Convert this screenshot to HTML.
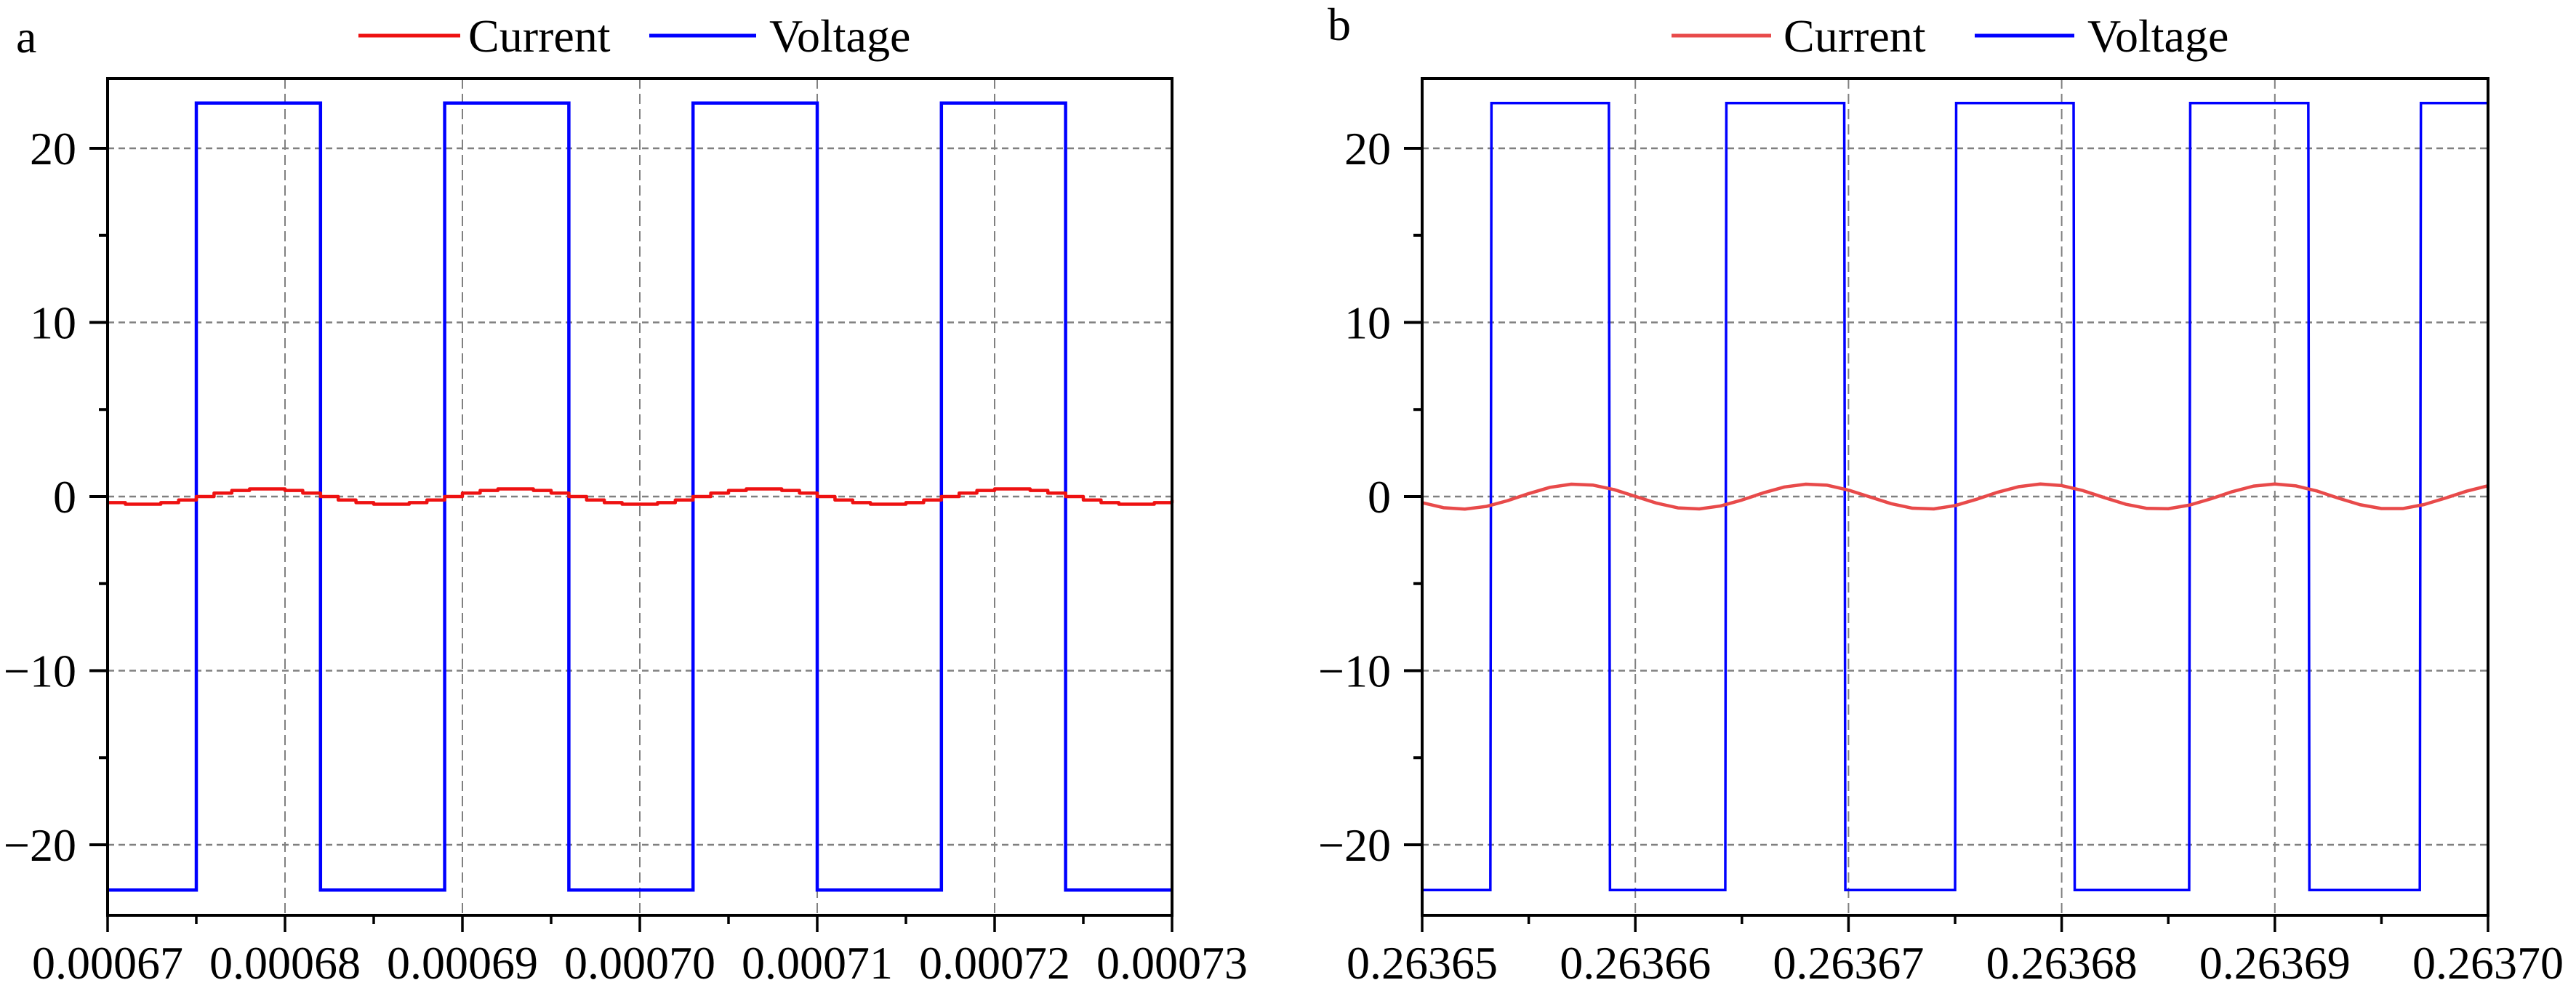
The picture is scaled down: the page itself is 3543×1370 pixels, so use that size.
<!DOCTYPE html>
<html><head><meta charset="utf-8"><style>
html,body{margin:0;padding:0;background:#fff;}
svg{display:block;font-family:"Liberation Serif",serif;}
</style></head><body>
<svg id="chart" width="3543" height="1370" viewBox="0 0 3543 1370" xmlns="http://www.w3.org/2000/svg"></svg>
<script>
// ---- Data ----
const yTicks = [-20, -10, 0, 10, 20];
const yMinorTicks = [-15, -5, 5, 15];
const xTicksA = [0.00067, 0.00068, 0.00069, 0.00070, 0.00071, 0.00072, 0.00073];
const xTickLabelsA = ["0.00067","0.00068","0.00069","0.00070","0.00071","0.00072","0.00073"];
const xTicksB = [0.26365, 0.26366, 0.26367, 0.26368, 0.26369, 0.26370];
const xTickLabelsB = ["0.26365","0.26366","0.26367","0.26368","0.26369","0.26370"];
const voltageHigh = 22.6;
const voltageLow = -22.6;
const voltageStartA = -22.6;
const voltageEdgesA = [0.000675,0.000682,0.000689,0.000696,0.000703,0.000710,0.000717,0.000724];
const voltageStartB = -22.6;
const voltageEdgesB = [0.2636532,0.26365876,0.26366422,0.2636698,0.263675,0.26368056,0.26368598,0.26369157,0.2636968];
const currentStartA = 0.00067;
const currentStepA = 0.000001;
const currentA = [-0.35,-0.44,-0.44,-0.35,-0.20,0.00,0.20,0.35,0.44,0.44,0.35,0.20,0.00,-0.20,
 -0.35,-0.44,-0.44,-0.35,-0.20,0.00,0.20,0.35,0.44,0.44,0.35,0.20,0.00,-0.20,
 -0.35,-0.44,-0.44,-0.35,-0.20,0.00,0.20,0.35,0.44,0.44,0.35,0.20,0.00,-0.20,
 -0.35,-0.44,-0.44,-0.35,-0.20,0.00,0.20,0.35,0.44,0.44,0.35,0.20,0.00,-0.20,
 -0.35,-0.44,-0.44,-0.35,-0.20];
const currentStartB = 0.26365;
const currentStepB = 0.000001;
const currentB = [-0.35,-0.64,-0.72,-0.57,-0.24,0.17,0.53,0.71,0.66,0.40,0.01,-0.38,-0.65,-0.71,-0.54,-0.20,0.21,0.55,0.71,0.65,0.37,-0.02,-0.41,-0.67,-0.71,-0.52,-0.16,0.25,0.57,0.72,0.63,0.34,-0.06,-0.44,-0.68,-0.70,-0.49,-0.13,0.28,0.60,0.72,0.61,0.31,-0.10,-0.47,-0.69,-0.69,-0.46,-0.09,0.31,0.62];

const NS = "http://www.w3.org/2000/svg";
const svg = document.getElementById('chart');
function mk(tag, attrs, parent){
  const e = document.createElementNS(NS, tag);
  for (const k in attrs) e.setAttribute(k, attrs[k]);
  (parent||svg).appendChild(e);
  return e;
}

function panel(cfg){
  const g = mk('g', {});
  
  
  const L = cfg.left, R = cfg.right, T = 108, B = 1259;
  const y0 = 683, yPer = 23.95;
  const ys = v => y0 - v * yPer;
  const xs = t => L + (t - cfg.xmin) / (cfg.xmax - cfg.xmin) * (R - L);

  // grid
  yTicks.forEach(v => {
    const l = mk('line', {x1:L, x2:R, y1:ys(v), y2:ys(v), stroke:'#808080', 'stroke-width':2.5, 'stroke-dasharray':'9,6'}, g);
    
    
  });
  cfg.xt.forEach((t,i) => {
    if (i === 0 || i === cfg.xt.length-1) return;
    const l = mk('line', {x1:xs(t), x2:xs(t), y1:T, y2:B, stroke:'#808080', 'stroke-width':2, 'stroke-dasharray':'14,7'}, g);
    
    
  });

  // voltage step
  let d = `M${L},${ys(cfg.vStart)}`;
  let lvl = cfg.vStart;
  cfg.vEdges.forEach(t => {
    const x = xs(t);
    d += ` L${x},${ys(lvl)}`;
    lvl = (lvl === voltageLow) ? voltageHigh : voltageLow;
    d += ` L${x + cfg.slant},${ys(lvl)}`;
  });
  d += ` L${R},${ys(lvl)}`;
  const vp = mk('path', {d:d, fill:'none', stroke:'#0000ff', 'stroke-width':cfg.vw, 'stroke-linejoin':'miter'}, g);
  
  

  // current
  let cd = '';
  cfg.cur.forEach((v,i) => {
    const x = xs(cfg.cStart + i*cfg.cStep);
    if (cfg.stepped) {
      const x2 = Math.min(R, xs(cfg.cStart + (i+1)*cfg.cStep));
      cd += (i===0 ? `M${x},${ys(v)}` : ` L${x},${ys(v)}`) + ` L${x2},${ys(v)}`;
    } else {
      cd += (i===0 ? 'M' : ' L') + x + ',' + ys(v);
    }
  });
  const cp = mk('path', {d:cd, fill:'none', stroke:cfg.ccol, 'stroke-width':4.5, 'stroke-linejoin':'round'}, g);
  
  

  // frame
  const fr = mk('rect', {x:L, y:T, width:R-L, height:B-T, fill:'none', stroke:'#000', 'stroke-width':4}, g);
  
  

  // y ticks
  yTicks.forEach(v => {
    const t = mk('line', {x1:L-25, x2:L, y1:ys(v), y2:ys(v), stroke:'#000', 'stroke-width':4}, g);
    
    
    const lab = mk('text', {x:L-43, y:ys(v)+22, 'text-anchor':'end', 'font-size':64, fill:'#000'}, g);
    lab.textContent = v < 0 ? '\u2212' + Math.abs(v) : String(v);
    
    
  });
  yMinorTicks.forEach(v => {
    const t = mk('line', {x1:L-12, x2:L, y1:ys(v), y2:ys(v), stroke:'#000', 'stroke-width':4}, g);
    
    
  });
  // x ticks
  cfg.xt.forEach((t,i) => {
    const tk = mk('line', {x1:xs(t), x2:xs(t), y1:B, y2:B+23, stroke:'#000', 'stroke-width':3.5}, g);
    
    
    if (i < cfg.xt.length-1) {
      const mx = (xs(t) + xs(cfg.xt[i+1]))/2;
      const mt = mk('line', {x1:mx, x2:mx, y1:B, y2:B+12, stroke:'#000', 'stroke-width':3.5}, g);
      
      
    }
    const lab = mk('text', {x:xs(t), y:1346, 'text-anchor':'middle', 'font-size':64, fill:'#000'}, g);
    lab.textContent = cfg.xl[i];
    
    
  });

  // panel letter
  const pl = mk('text', {x:cfg.letterX, y:cfg.letterY, 'font-size':64, fill:'#000'}, g);
  pl.textContent = cfg.letter;
  
  

  // legend
  const lg = mk('g', {}, g);
  
  
  const e1 = mk('line', {x1:cfg.lg[0], x2:cfg.lg[1], y1:49, y2:49, stroke:cfg.ccol, 'stroke-width':5}, lg);
  
  
  const t1 = mk('text', {x:cfg.lg[2], y:71, 'font-size':64, fill:'#000'}, lg);
  t1.textContent = 'Current';
  
  
  const e2 = mk('line', {x1:cfg.lg[3], x2:cfg.lg[4], y1:49, y2:49, stroke:'#0000ff', 'stroke-width':5}, lg);
  
  
  const t2 = mk('text', {x:cfg.lg[5], y:71, 'font-size':64, fill:'#000'}, lg);
  t2.textContent = 'Voltage';
  
  
}

panel({name:'panel-a', left:148, right:1612, xmin:0.00067, xmax:0.00073, xt:xTicksA, xl:xTickLabelsA,
  vStart:voltageStartA, vEdges:voltageEdgesA, slant:0, vw:4.5,
  cur:currentA, cStart:currentStartA, cStep:currentStepA, stepped:true, ccol:'#ee1111',
  letter:'a', letterX:22, letterY:72, lg:[493,633,644,893,1040,1058]});
panel({name:'panel-b', left:1956, right:3422, xmin:0.26365, xmax:0.26370, xt:xTicksB, xl:xTickLabelsB,
  vStart:voltageStartB, vEdges:voltageEdgesB, slant:1.5, vw:3.5,
  cur:currentB, cStart:currentStartB, cStep:currentStepB, stepped:false, ccol:'#e84a4a',
  letter:'b', letterX:1826, letterY:55, lg:[2299,2436,2453,2716,2853,2871]});
</script>
</body></html>
